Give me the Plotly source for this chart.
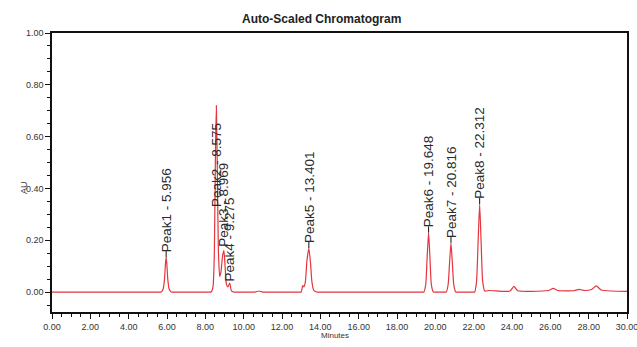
import plotly.graph_objects as go

# ---- data ----
peak_names = ["Peak1", "Peak2", "Peak3", "Peak4", "Peak5", "Peak6", "Peak7", "Peak8"]
peak_times = [5.956, 8.575, 8.969, 9.275, 13.401, 19.648, 20.816, 22.312]
peak_heights = [0.135, 0.72, 0.16, 0.035, 0.17, 0.23, 0.19, 0.34]

time_min = [0.0, 5.0, 5.60, 5.70, 5.80, 5.87, 5.92, 5.956, 5.99, 6.04, 6.11, 6.22, 6.35,
            8.15, 8.30, 8.40, 8.47, 8.53, 8.575, 8.62, 8.68, 8.75, 8.82, 8.90, 8.969,
            9.03, 9.10, 9.18, 9.275, 9.36, 9.50, 9.65, 10.6, 10.8, 11.0,
            12.85, 13.0, 13.08, 13.14, 13.22, 13.30, 13.401, 13.49, 13.56, 13.65, 13.80, 13.95,
            19.25, 19.40, 19.50, 19.57, 19.648, 19.72, 19.79, 19.90, 20.05,
            20.42, 20.57, 20.67, 20.74, 20.816, 20.89, 20.96, 21.07, 21.22,
            21.90, 22.05, 22.15, 22.23, 22.312, 22.39, 22.47, 22.58, 22.80,
            23.5, 23.9, 24.1, 24.3, 25.0, 25.9, 26.15, 26.4, 27.2, 27.5, 27.8,
            28.15, 28.4, 28.65, 29.2, 30.0]
au = [0.0, 0.0, 0.0, 0.0, 0.012, 0.05, 0.11, 0.135, 0.11, 0.05, 0.012, 0.0, 0.0,
      0.0, 0.0, 0.02, 0.15, 0.55, 0.72, 0.50, 0.16, 0.06, 0.08, 0.14, 0.16,
      0.10, 0.03, 0.02, 0.035, 0.005, 0.0, 0.0, 0.0, 0.004, 0.0,
      0.0, 0.0, 0.025, 0.02, 0.04, 0.12, 0.17, 0.11, 0.04, 0.008, 0.0, 0.0,
      0.0, 0.0, 0.03, 0.13, 0.23, 0.13, 0.03, 0.0, 0.0,
      0.0, 0.0, 0.03, 0.11, 0.19, 0.11, 0.03, 0.0, 0.0,
      0.0, 0.0, 0.04, 0.19, 0.34, 0.19, 0.04, 0.004, 0.006,
      0.003, 0.004, 0.022, 0.005, 0.003, 0.006, 0.014, 0.006, 0.005, 0.010, 0.006,
      0.010, 0.024, 0.008, 0.004, 0.003]

x_ticks = [0, 2, 4, 6, 8, 10, 12, 14, 16, 18, 20, 22, 24, 26, 28, 30]
y_ticks = [0.0, 0.2, 0.4, 0.6, 0.8, 1.0]

# ---- styling / placement ----
FONT = "Liberation Sans, Arial, sans-serif"
LABEL_SIZE = 13.5
label_base_override = {1: 0.31, 2: 0.155, 3: 0.02}   # where crowded labels start (AU)
GAP = 5  # px between apex and label
L_M, R_M, T_M, B_M = 52, 10, 33, 35
PW, PH = 637 - L_M - R_M, 347 - T_M - B_M

widths = {'P': .667, 'e': .556, 'a': .556, 'k': .5, ' ': .278, '-': .333, '.': .278}
def text_len(s, size):
    return sum(widths.get(c, .556) for c in s) * size

fig = go.Figure()
fig.add_trace(go.Scatter(x=time_min, y=au, mode="lines",
                         line=dict(color="#e4353c", width=1.2, shape="spline", smoothing=0.5),
                         hoverinfo="skip", showlegend=False))

annotations = []
shapes = []
for i, (n, t, h) in enumerate(zip(peak_names, peak_times, peak_heights)):
    txt = f"{n} - {t:.3f}"
    L = text_len(txt, LABEL_SIZE)
    base = label_base_override.get(i, h)
    annotations.append(dict(x=t, y=base, xref="x", yref="y", text=txt, showarrow=False,
                            textangle=-90, xanchor="center", yanchor="middle",
                            yshift=GAP + L / 2, font=dict(family=FONT, size=LABEL_SIZE, color="#2a2a2a")))
    if i not in label_base_override:
        shapes.append(dict(type="line", xref="x", yref="y", ysizemode="pixel", yanchor=h,
                           x0=t, x1=t, y0=0, y1=GAP + 1, line=dict(color="#111", width=1)))

annotations.append(dict(x=(17 - L_M) / PW, y=(347 - B_M - 188) / PH, xref="paper", yref="paper",
                        text="AU", showarrow=False, textangle=-90,
                        font=dict(family=FONT, size=9, color="#333")))
annotations.append(dict(x=(335 - L_M) / PW, y=(347 - B_M - 342) / PH, xref="paper", yref="paper",
                        text="Minutes", showarrow=False,
                        font=dict(family=FONT, size=8, color="#333")))

fig.update_layout(
    template="none",
    width=637, height=347,
    margin=dict(l=L_M, r=R_M, t=T_M, b=B_M, pad=0),
    paper_bgcolor="white", plot_bgcolor="white",
    title=dict(text="<b>Auto-Scaled Chromatogram</b>", x=0.505, xref="container",
               y=1 - 19 / 347, yref="container", yanchor="middle", xanchor="center",
               font=dict(family=FONT, size=12, color="#222")),
    annotations=annotations,
    shapes=shapes,
    font=dict(family=FONT, size=9, color="#333"),
    showlegend=False,
)

fig.update_xaxes(range=[0, 30], tickvals=x_ticks, tickformat=".2f", ticks="outside",
                 ticklen=5, tickcolor="#111", showline=True, linecolor="#111", linewidth=1.5,
                 mirror=True, showgrid=False, zeroline=False, automargin=False,
                 ticklabeloverflow="allow",
                 minor=dict(tick0=0, dtick=0.5, ticks="outside", ticklen=3, tickcolor="#111",
                            showgrid=False),
                 tickfont=dict(family=FONT, size=9, color="#333"))
fig.update_yaxes(range=[-0.077, 1.0], tickvals=y_ticks, tickformat=".2f", ticks="outside",
                 ticklen=5, tickcolor="#111", showline=True, linecolor="#111", linewidth=1.5,
                 mirror=True, showgrid=False, zeroline=False, automargin=False,
                 ticklabeloverflow="allow",
                 minor=dict(tick0=0, dtick=0.05, ticks="outside", ticklen=3, tickcolor="#111",
                            showgrid=False),
                 tickfont=dict(family=FONT, size=9, color="#333"))

fig.write_html("out.html", config={"displayModeBar": False},
               post_script="document.body.style.margin='0';document.body.style.overflow='hidden';")
